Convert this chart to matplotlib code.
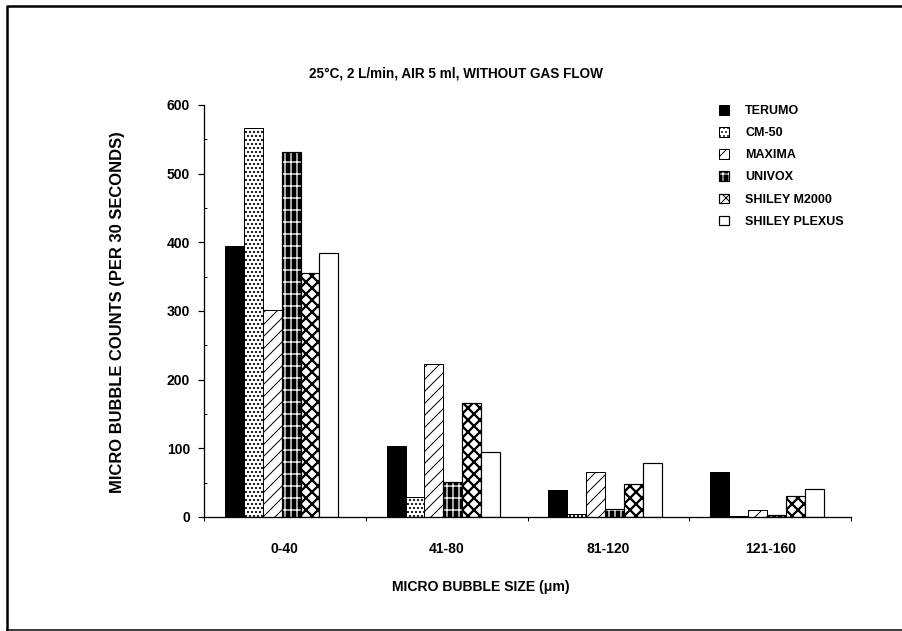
import matplotlib
matplotlib.use("Agg")
import matplotlib.pyplot as plt
import matplotlib as mpl
from matplotlib.lines import Line2D
from matplotlib.ticker import MultipleLocator, FixedLocator
import numpy as np

categories = ['0-40', '41-80', '81-120', '121-160']
series_names = ['TERUMO', 'CM-50', 'MAXIMA', 'UNIVOX', 'SHILEY M2000', 'SHILEY PLEXUS']
terumo = [395, 104, 40, 65]
cm50 = [567, 29, 4, 2]
maxima = [302, 223, 65, 10]
univox = [531, 51, 11, 3]
m2000 = [356, 166, 48, 31]
plexus = [385, 95, 78, 41]
y_ticks = [0, 100, 200, 300, 400, 500, 600]

values = [terumo, cm50, maxima, univox, m2000, plexus]

FONT = 'Liberation Sans'
plt.rcParams['font.family'] = [FONT, 'DejaVu Sans']
plt.rcParams['font.weight'] = 'bold'

W, H, DPI = 902, 631, 72
fig = plt.figure(figsize=(W / DPI, H / DPI), dpi=DPI)
ax = fig.add_axes([204 / W, 1 - 517 / H, (851 - 204) / W, (517 - 105) / H])

x = np.arange(len(categories))
bw = 0.117
n = len(values)
offs = (np.arange(n) - (n - 1) / 2) * bw - 0.02

handles = []
# TERUMO: solid black
b = ax.bar(x + offs[0], terumo, bw, color='black', edgecolor='black', linewidth=1)
handles.append(b[0])
# CM-50: stipple
with mpl.rc_context({'hatch.linewidth': 1.4}):
    b = ax.bar(x + offs[1], cm50, bw, facecolor='white', edgecolor='black', hatch='...', linewidth=1)
handles.append(b[0])
# MAXIMA: diagonal
with mpl.rc_context({'hatch.linewidth': 1.0}):
    b = ax.bar(x + offs[2], maxima, bw, facecolor='white', edgecolor='black', hatch='//', linewidth=1)
handles.append(b[0])
# UNIVOX: black with white grid
with mpl.rc_context({'hatch.linewidth': 1.3}):
    b1 = ax.bar(x + offs[3], univox, bw, facecolor='black', edgecolor='white', hatch='||-', linewidth=0)
b2 = ax.bar(x + offs[3], univox, bw, fill=False, edgecolor='black', linewidth=1.2)
handles.append((b1[0], b2[0]))
# SHILEY M2000: diamond checker
with mpl.rc_context({'hatch.linewidth': 2.3}):
    b = ax.bar(x + offs[4], m2000, bw, facecolor='white', edgecolor='black', hatch='xx', linewidth=1.2)
handles.append(b[0])
# SHILEY PLEXUS: white
b = ax.bar(x + offs[5], plexus, bw, facecolor='white', edgecolor='black', linewidth=1.2)
handles.append(b[0])

ax.set_xlim(-0.5, 3.5)
ax.set_ylim(0, 600)
for s in ['top', 'right']:
    ax.spines[s].set_visible(False)
for s in ['left', 'bottom']:
    ax.spines[s].set_linewidth(1.3)

ax.set_yticks(y_ticks)
ax.yaxis.set_minor_locator(MultipleLocator(50))
ax.tick_params(axis='y', which='major', direction='out', length=6, width=1.2, pad=8, labelsize=14)
ax.tick_params(axis='y', which='minor', direction='in', length=3, width=1)
ax.set_xticks(x)
ax.set_xticklabels(categories)
ax.xaxis.set_minor_locator(FixedLocator(np.arange(-0.5, 4.0, 1.0)))
ax.tick_params(axis='x', which='major', length=0, pad=25, labelsize=14)
ax.tick_params(axis='x', which='minor', direction='out', length=4, width=1)
for lab in ax.get_xticklabels() + ax.get_yticklabels():
    lab.set_fontweight('bold')

fig.text(456 / W, 1 - 73 / H, '25°C, 2 L/min, AIR 5 ml, WITHOUT GAS FLOW',
         ha='center', va='center', fontsize=13.5, fontweight='bold')
fig.text(481 / W, 1 - 587 / H, 'MICRO BUBBLE SIZE (\u03bcm)',
         ha='center', va='center', fontsize=14, fontweight='bold')
fig.text(118 / W, 1 - 312 / H, 'MICRO BUBBLE COUNTS (PER 30 SECONDS)', rotation=90,
         ha='center', va='center', fontsize=16.5, fontweight='bold')

leg = ax.legend(handles, series_names, loc='upper left',
                bbox_to_anchor=(719 / W, 1 - 105 / H), bbox_transform=fig.transFigure,
                frameon=False, fontsize=12.5, handlelength=0.8, handleheight=0.8,
                handletextpad=1.3, labelspacing=0.8, borderpad=0, borderaxespad=0)
for t in leg.get_texts():
    t.set_fontweight('bold')

# page border (left, top, bottom)
fig.add_artist(Line2D([7 / W, 7 / W, 1.0], [1 - 630 / H, 1 - 6 / H, 1 - 6 / H],
                      transform=fig.transFigure, color='black', linewidth=2.5))
fig.add_artist(Line2D([7 / W, 1.0], [1 - 630 / H, 1 - 630 / H],
                      transform=fig.transFigure, color='black', linewidth=1.5))

fig.savefig('out.png', dpi=DPI)
